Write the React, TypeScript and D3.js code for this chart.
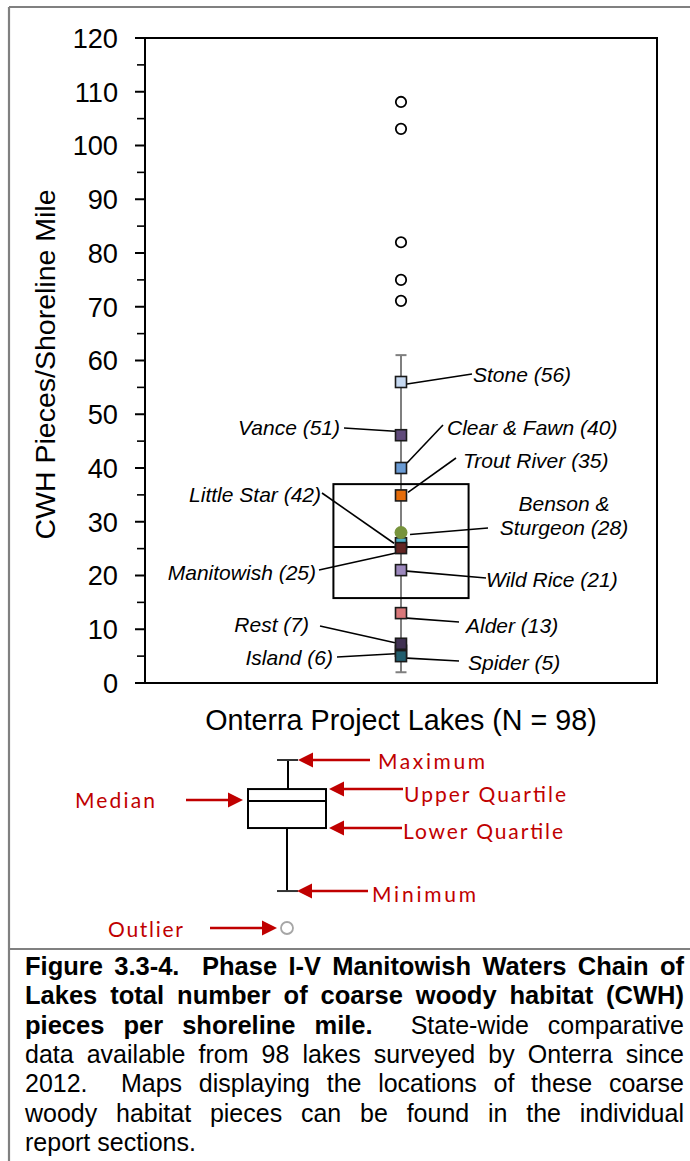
import React, { useMemo } from "react";
import * as d3 from "d3";

// ---------- data ----------
const category = "Onterra Project Lakes (N = 98)";
const yTickValues = [0, 10, 20, 30, 40, 50, 60, 70, 80, 90, 100, 110, 120];
const yMinorTickValues = [5, 15, 25, 35, 45, 55, 65, 75, 85, 95, 105, 115];
const boxKeys = ["min", "q1", "median", "q3", "max"];
const boxValues = [2, 15.8, 25.3, 37, 61];
const outlierValues = [71.1, 75, 82, 103.1, 108.1];

const lakeNames = ["Stone", "Vance", "Clear & Fawn", "Trout River", "Little Star", "Benson & Sturgeon", "Manitowish", "Wild Rice", "Alder", "Island", "Rest", "Spider"];
const lakeValues = [56, 46.1, 40, 34.9, 26.0, 28, 25.1, 21, 13, 6, 7.3, 5];
const lakeLabelNumbers = [56, 51, 40, 35, 42, 28, 25, 21, 13, 6, 7, 5];
const lakeColors = ["#c6d9f1", "#604a7b", "#6a9bd4", "#e46c0a", "#4bacc6", "#77933c", "#632523", "#9c88bd", "#d9787a", "#403152", "#403152", "#215e6e"];
const lakeShapes = ["square", "square", "square", "square", "square", "circle", "square", "square", "square", "square", "square", "square"];

const legendLabels = ["Maximum", "Upper Quartile", "Median", "Lower Quartile", "Minimum", "Outlier"];
const legendSchematicValues = [10, 8.27, 7.56, 5.95, 2.2, 0];

const captionLines = [
  { bold: "Figure 3.3-4.  Phase I-V Manitowish Waters Chain of", normal: "" },
  { bold: "Lakes total number of coarse woody habitat (CWH)", normal: "" },
  { bold: "pieces per shoreline mile.", normal: "State-wide comparative" },
  { bold: "", normal: "data available from 98 lakes surveyed by Onterra since" },
  { bold: "", normal: "2012.  Maps displaying the locations of these coarse" },
  { bold: "", normal: "woody habitat pieces can be found in the individual" },
  { bold: "", normal: "report sections." },
];

// ---------- layout (pixels) ----------
const W = 690, H = 1161;
const plot = { left: 145, right: 657, top: 38, bottom: 683 };
const FONT = "'Liberation Sans', Arial, Helvetica, sans-serif";
const LEG_FONT = "Lato, 'Open Sans', sans-serif";
const RED = "#c00000";

const labelLayout: Record<string, any> = {
  "Stone": { side: "right", tx: 473, ty: 374, lx: 472, ly: 374, mdx: 6, mdy: 2 },
  "Vance": { side: "left", tx: 340, ty: 427, lx: 344, ly: 428, mdx: -6, mdy: -4 },
  "Clear & Fawn": { side: "right", tx: 447, ty: 427, lx: 443, ly: 425, mdx: 6, mdy: -5 },
  "Trout River": { side: "right", tx: 463, ty: 460, lx: 456, ly: 458, mdx: 7, mdy: -3 },
  "Little Star": { side: "left", tx: 321, ty: 494, lx: 322, ly: 493, mdx: -7, mdy: 0 },
  "Benson & Sturgeon": { side: "center", tx: 564, ty: 515, lx: 488, ly: 528, mdx: 9, mdy: 2, wrap: true },
  "Manitowish": { side: "left", tx: 316, ty: 572, lx: 319, ly: 570, mdx: -5, mdy: 5 },
  "Wild Rice": { side: "right", tx: 486, ty: 579, lx: 486, ly: 578, mdx: 6, mdy: 1 },
  "Alder": { side: "right", tx: 466, ty: 625, lx: 459, ly: 622, mdx: 6, mdy: 5 },
  "Island": { side: "left", tx: 333, ty: 657, lx: 337, ly: 657, mdx: -6, mdy: 3 },
  "Rest": { side: "left", tx: 309, ty: 624, lx: 320, ly: 626, mdx: -6, mdy: -1 },
  "Spider": { side: "right", tx: 468, ty: 662, lx: 459, ly: 661, mdx: 6, mdy: 2 },
};

const legendLayout: Record<string, any> = {
  "Maximum": { dir: "left", tip: 298, tail: 370, tx: 378, tw: 107, dy: 9 },
  "Upper Quartile": { dir: "left", tip: 329, tail: 403, tx: 404, tw: 162, dy: 13 },
  "Median": { dir: "right", tip: 243, tail: 186, tx: 75, tw: 80, dy: 8 },
  "Lower Quartile": { dir: "left", tip: 329, tail: 402, tx: 403, tw: 160, dy: 11 },
  "Minimum": { dir: "left", tip: 297, tail: 368, tx: 372, tw: 104, dy: 11 },
  "Outlier": { dir: "right", tip: 277, tail: 210, tx: 108, tw: 75, dy: 9 },
};

const CAP_BOLD_SIZE = 25.5;
const CAP_NORMAL_SIZE = 25;
const CAP_BOLD_SPACING = 0;

function measure(text: string, font: string, spacing = 0) {
  const c = document.createElement("canvas").getContext("2d")!;
  c.font = font;
  return c.measureText(text).width + spacing * text.length;
}

export default function App() {
  const y = d3.scaleLinear().domain([0, 120]).range([plot.bottom, plot.top]);
  const x = d3.scaleBand().domain([category]).range([plot.left, plot.right]);
  const cx = (x(category) as number) + x.bandwidth() / 2;
  const boxHalf = x.bandwidth() * 0.132;
  const stat = (k: string) => boxValues[boxKeys.indexOf(k)];

  const yLeg = d3.scaleLinear().domain([0, 10]).range([928, 760]);
  const legCx = 287;
  const legBoxL = 248, legBoxR = 326;

  const caption = useMemo(() => {
    const left = 25, right = 684;
    const fontB = `bold ${CAP_BOLD_SIZE}px 'Liberation Sans', Arial`;
    const fontN = `${CAP_NORMAL_SIZE}px 'Liberation Sans', Arial`;
    const spaceN = measure(" ", fontN);
    return captionLines.map((ln, li) => {
      const tokens: { text: string; bold: boolean; gapBefore: number }[] = [];
      const push = (s: string, bold: boolean, firstGap: number) => {
        if (!s) return;
        const parts = s.split(/( +)/);
        let gap = firstGap;
        for (const p of parts) {
          if (p === "") continue;
          if (/^ +$/.test(p)) { gap = p.length; continue; }
          tokens.push({ text: p, bold, gapBefore: tokens.length === 0 ? 0 : gap });
          gap = 1;
        }
      };
      push(ln.bold, true, 0);
      push(ln.normal, false, 2);
      const widths = tokens.map(t => t.bold ? measure(t.text, fontB, CAP_BOLD_SPACING) : measure(t.text, fontN));
      const total = widths.reduce((a, b) => a + b, 0);
      const gaps = tokens.reduce((a, t) => a + t.gapBefore, 0);
      const last = li === captionLines.length - 1;
      const unit = last ? spaceN : (right - left - total) / gaps;
      let xx = left;
      return tokens.map((t, i) => {
        xx += t.gapBefore * unit;
        const out = { ...t, x: xx, y: 975 + li * 29.3 };
        xx += widths[i];
        return out;
      });
    });
  }, []);

  return (
    <svg width={W} height={H} style={{ position: "absolute", left: 0, top: 0, background: "#fff" }} fontFamily={FONT}>
      {/* outer frame */}
      <g stroke="#808080" strokeWidth={2.2} fill="none">
        <line x1={9} y1={7} x2={W} y2={7} />
        <line x1={9} y1={7} x2={9} y2={H} />
        <line x1={9} y1={949} x2={W} y2={949} />
      </g>

      {/* plot frame */}
      <rect x={plot.left} y={plot.top} width={plot.right - plot.left} height={plot.bottom - plot.top} fill="none" stroke="#000" strokeWidth={2} />
      {yTickValues.map(v => (
        <g key={"t" + v}>
          <line x1={plot.left - 10} x2={plot.left} y1={y(v)} y2={y(v)} stroke="#000" strokeWidth={2} />
          <text x={118} y={y(v) + 9.8} textAnchor="end" fontSize={27.2} fill="#000">{v}</text>
        </g>
      ))}
      {yMinorTickValues.map(v => (
        <line key={"m" + v} x1={plot.left - 8} x2={plot.left} y1={y(v)} y2={y(v)} stroke="#000" strokeWidth={1.6} />
      ))}
      <text transform={`translate(55,${(plot.top + plot.bottom) / 2 + 4}) rotate(-90)`} textAnchor="middle" fontSize={28.5} fill="#000">CWH Pieces/Shoreline Mile</text>
      <text x={cx} y={730} textAnchor="middle" fontSize={28.7} fill="#000">{category}</text>

      {/* whisker */}
      <line x1={cx} x2={cx} y1={y(stat("min"))} y2={y(stat("max"))} stroke="#7f7f7f" strokeWidth={2} />
      <line x1={cx - 5.5} x2={cx + 5.5} y1={y(stat("min"))} y2={y(stat("min"))} stroke="#7f7f7f" strokeWidth={2} />
      <line x1={cx - 5.5} x2={cx + 5.5} y1={y(stat("max"))} y2={y(stat("max"))} stroke="#7f7f7f" strokeWidth={2} />
      {/* box */}
      <rect x={cx - boxHalf} y={y(stat("q3"))} width={boxHalf * 2} height={y(stat("q1")) - y(stat("q3"))} fill="none" stroke="#000" strokeWidth={2} />
      <line x1={cx - boxHalf} x2={cx + boxHalf} y1={y(stat("median"))} y2={y(stat("median"))} stroke="#000" strokeWidth={2} />

      {/* outliers */}
      {outlierValues.map(v => (
        <circle key={"o" + v} cx={cx} cy={y(v)} r={5.2} fill="#fff" stroke="#000" strokeWidth={1.8} />
      ))}

      {/* leader lines */}
      {lakeNames.map((n, i) => {
        const L = labelLayout[n];
        return <line key={"l" + n} x1={cx + L.mdx} y1={y(lakeValues[i]) + L.mdy} x2={L.lx} y2={L.ly} stroke="#000" strokeWidth={1.6} />;
      })}

      {/* lake markers */}
      {lakeNames.map((n, i) => lakeShapes[i] === "circle" ? (
        <circle key={"k" + n} cx={cx} cy={y(lakeValues[i])} r={6.5} fill={lakeColors[i]} />
      ) : (
        <rect key={"k" + n} x={cx - 5.5} y={y(lakeValues[i]) - 5.5} width={11} height={11} fill={lakeColors[i]} stroke="#1a1a1a" strokeWidth={1.6} />
      ))}

      {/* lake labels */}
      {lakeNames.map((n, i) => {
        const L = labelLayout[n];
        const label = `${n} (${lakeLabelNumbers[i]})`;
        const anchor = L.side === "left" ? "end" : L.side === "right" ? "start" : "middle";
        if (L.wrap) {
          const parts = label.split("& ");
          return (
            <text key={"t" + n} x={L.tx} textAnchor={anchor} fontSize={21} fontStyle="italic" fill="#000">
              <tspan x={L.tx} y={L.ty - 12 + 7.5}>{parts[0] + "&"}</tspan>
              <tspan x={L.tx} y={L.ty + 12 + 7.5}>{parts[1]}</tspan>
            </text>
          );
        }
        return <text key={"t" + n} x={L.tx} y={L.ty + 7.5} textAnchor={anchor} fontSize={21} fontStyle="italic" fill="#000">{label}</text>;
      })}

      {/* legend schematic */}
      {(() => {
        const v = (lbl: string) => yLeg(legendSchematicValues[legendLabels.indexOf(lbl)]);
        return (
          <g>
            <line x1={legCx + 1} x2={legCx + 1} y1={v("Maximum")} y2={v("Upper Quartile")} stroke="#000" strokeWidth={2} />
            <line x1={legCx} x2={legCx} y1={v("Lower Quartile")} y2={v("Minimum")} stroke="#000" strokeWidth={2} />
            <line x1={legCx - 10} x2={legCx + 11} y1={v("Maximum")} y2={v("Maximum")} stroke="#333" strokeWidth={2} />
            <line x1={legCx - 10} x2={legCx + 11} y1={v("Minimum")} y2={v("Minimum")} stroke="#333" strokeWidth={2} />
            <rect x={legBoxL} y={v("Upper Quartile")} width={legBoxR - legBoxL} height={v("Lower Quartile") - v("Upper Quartile")} fill="#fff" stroke="#000" strokeWidth={2} />
            <line x1={legBoxL} x2={legBoxR} y1={v("Median")} y2={v("Median")} stroke="#000" strokeWidth={2} />
            <circle cx={legCx} cy={v("Outlier")} r={6} fill="#fff" stroke="#a6a6a6" strokeWidth={1.8} />
            {legendLabels.map(lbl => {
              const L = legendLayout[lbl];
              const yy = lbl === "Median" ? v("Median") - 1 : v(lbl);
              const s = L.dir === "left" ? 1 : -1;
              const head = `M${L.tip},${yy} L${L.tip + s * 15},${yy - 7.5} L${L.tip + s * 15},${yy + 7.5} Z`;
              return (
                <g key={"lg" + lbl}>
                  <line x1={L.tip + s * 12} x2={L.tail} y1={yy} y2={yy} stroke={RED} strokeWidth={2.4} />
                  <path d={head} fill={RED} />
                  <text x={L.tx} y={yy + L.dy} fontFamily={LEG_FONT} fontSize={21} fill={RED} textLength={L.tw} lengthAdjust="spacing">{lbl}</text>
                </g>
              );
            })}
          </g>
        );
      })()}

      {/* caption */}
      {caption.map((line, li) => (
        <g key={"c" + li}>
          {line.map((t, ti) => (
            <text key={ti} x={t.x} y={t.y}
              fontSize={t.bold ? CAP_BOLD_SIZE : CAP_NORMAL_SIZE}
              fontWeight={t.bold ? "bold" : "normal"}
              letterSpacing={t.bold ? CAP_BOLD_SPACING : 0}
              fill="#000">{t.text}</text>
          ))}
        </g>
      ))}
    </svg>
  );
}
